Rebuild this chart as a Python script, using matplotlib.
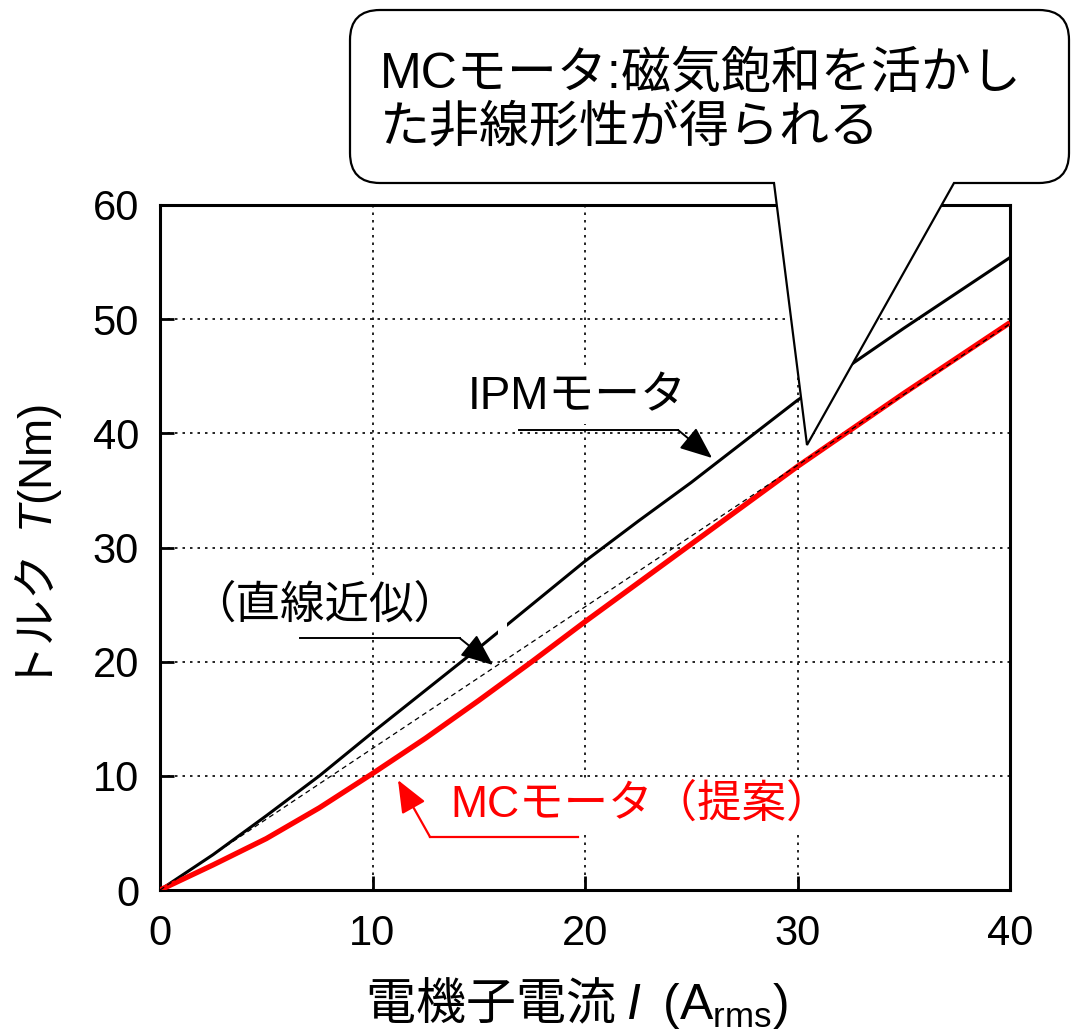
import numpy as np
import matplotlib
matplotlib.use("Agg")
import matplotlib.pyplot as plt
import matplotlib.transforms as mtransforms
from matplotlib.path import Path
from matplotlib.patches import PathPatch, Rectangle

plt.rcParams['font.family'] = ['Liberation Sans', 'Noto Sans CJK JP']
plt.rcParams['mathtext.fontset'] = 'custom'
plt.rcParams['mathtext.rm'] = 'Liberation Sans'
plt.rcParams['mathtext.it'] = 'Liberation Sans:italic'

# 電機子電流 I (Arms)
current = [0, 2.5, 5, 7.5, 10, 12.5, 15, 17.5, 20, 22.5, 25, 27.5, 30, 32.5, 35, 37.5, 40]
# IPMモータ トルク (Nm)
torque_ipm = [0, 3.1, 6.5, 10.0, 13.8, 17.5, 21.2, 25.0, 28.8, 32.3, 35.7, 39.3, 42.9, 46.0, 49.2, 52.3, 55.4]
# MCモータ（提案） トルク (Nm)
torque_mc = [0, 2.2, 4.5, 7.2, 10.2, 13.3, 16.6, 20.0, 23.5, 26.9, 30.3, 33.7, 37.1, 40.3, 43.5, 46.6, 49.7]
# 直線近似
linear_x = [0, 40]
linear_y = [0, 49.6]

xticks = [0, 10, 20, 30, 40]
yticks = [0, 10, 20, 30, 40, 50, 60]

W, H = 1072, 1035
fig = plt.figure(figsize=(W / 100, H / 100), dpi=100)
ax = fig.add_axes([160 / W, (H - 890) / H, 850 / W, 685 / H])

ax.plot(current, torque_ipm, color='black', lw=2.2, zorder=3, solid_capstyle='butt')
ax.plot(current, torque_mc, color='#ff0000', lw=3.8, zorder=4, solid_capstyle='butt')
ax.plot(linear_x, linear_y, color='black', lw=0.9, ls=(0, (4, 3)), zorder=5)

# small break in the IPM curve
ax.add_patch(Rectangle((15.92, 21.6), 0.42, 2.6, facecolor='white', edgecolor='none', zorder=3.5))

ax.set_xlim(0, 40)
ax.set_ylim(0, 60)
ax.set_xticks(xticks)
ax.set_yticks(yticks)
ax.tick_params(direction='in', length=10, width=2, labelsize=30)
ax.tick_params(axis='x', pad=17)
ax.tick_params(axis='y', pad=15)
ax.tick_params(top=False, right=False)
for s in ax.spines.values():
    s.set_linewidth(2.2)
ax.set_axisbelow(True)
ax.grid(True, color='black', lw=1.2, ls=(0, (1.5, 3)))

ax.set_xlabel("電機子電流 $\\mathit{I}$  $\\mathrm{(A_{rms})}$", fontsize=36, fontfamily='Noto Sans CJK JP')
ax.xaxis.set_label_coords(0.49, -0.165)
ax.xaxis.label.set_va('center')
ax.set_ylabel("トルク  $\\mathit{T}\\mathrm{(Nm)}$", fontsize=33, fontfamily='Noto Sans CJK JP')
ax.yaxis.set_label_coords(-0.143, 0.5)
ax.yaxis.label.set_va('center')

white_box = dict(facecolor='white', edgecolor='none', pad=4)
head = '-|>,head_length=0.8,head_width=0.33'

# IPMモータ label and arrow
ax.text(19.62, 43.2, "IPMモータ", fontsize=33, ha='center', va='center', bbox=white_box, zorder=6)
ax.plot([16.89, 24.38], [40.29, 40.29], color='black', lw=1.4, zorder=6)
ax.annotate("", xy=(25.98, 37.84), xytext=(24.38, 40.29),
            arrowprops=dict(arrowstyle=head, mutation_scale=25,
                            color='black', lw=1.4, shrinkA=0, shrinkB=0), zorder=6)

# 直線近似 label and arrow
ax.text(7.76, 24.96, "（直線近似）", fontsize=32, ha='center', va='center', bbox=white_box, zorder=6)
ax.plot([6.59, 14.1], [22.07, 22.07], color='black', lw=1.4, zorder=6)
ax.annotate("", xy=(15.67, 19.71), xytext=(14.1, 22.07),
            arrowprops=dict(arrowstyle=head, mutation_scale=25,
                            color='black', lw=1.4, shrinkA=0, shrinkB=0), zorder=6)

# MCモータ（提案） label and arrow
ax.text(22.6, 7.45, "MCモータ（提案）", fontsize=32, color='#ff0000', ha='center', va='center',
        bbox=white_box, zorder=6)
ax.plot([12.71, 19.67], [4.64, 4.64], color='#ff0000', lw=1.6, zorder=6)
ax.annotate("", xy=(11.2, 9.63), xytext=(12.71, 4.64),
            arrowprops=dict(arrowstyle=head, mutation_scale=25,
                            color='#ff0000', lw=1.6, shrinkA=0, shrinkB=0), zorder=6)

# speech-bubble callout (figure pixel coords, y down)
px = mtransforms.Affine2D().scale(1 / W, -1 / H).translate(0, 1) + fig.transFigure
L, T, R, B, r = 350, 10, 1069, 183, 30
verts = [
    (L + r, T), (R - r, T), (R, T), (R, T + r), (R, B - r), (R, B), (R - r, B),
    (954, B), (807, 445), (774, B), (L + r, B), (L, B), (L, B - r), (L, T + r), (L, T), (L + r, T),
    (L + r, T),
]
codes = [Path.MOVETO, Path.LINETO, Path.CURVE3, Path.CURVE3, Path.LINETO, Path.CURVE3, Path.CURVE3,
         Path.LINETO, Path.LINETO, Path.LINETO, Path.LINETO, Path.CURVE3, Path.CURVE3, Path.LINETO,
         Path.CURVE3, Path.CURVE3, Path.CLOSEPOLY]
bubble = PathPatch(Path(verts, codes), facecolor='white', edgecolor='black', lw=1.6,
                   transform=px, zorder=10, clip_on=False)
fig.patches.append(bubble)
fig.text(380 / W, 1 - 101 / H, "MCモータ:磁気飽和を活かし\nた非線形性が得られる", fontsize=36,
         ha='left', va='center', linespacing=1.2, zorder=11)

fig.savefig("out.png", dpi=100)
